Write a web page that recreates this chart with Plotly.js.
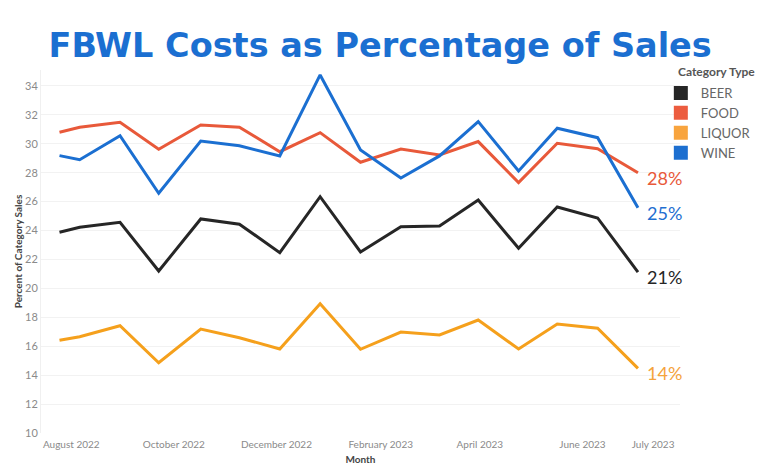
<!DOCTYPE html>
<html>
<head>
<meta charset="utf-8">
<script src="https://cdn.plot.ly/plotly-3.0.1.min.js"></script>
<style>html,body{margin:0;padding:0;background:#fff;}#chart{width:768px;height:476px;}</style>
</head>
<body>
<div id="chart"></div>
<script>
// Period dates (x axis)
var periods = ["2022-07-25","2022-08-06","2022-08-30","2022-09-22","2022-10-17","2022-11-09","2022-12-03","2022-12-27","2023-01-20","2023-02-13","2023-03-08","2023-03-31","2023-04-24","2023-05-17","2023-06-10","2023-07-04"];
var categories = ["BEER","FOOD","LIQUOR","WINE"];
var beer   = [23.88,24.23,24.57,21.20,24.80,24.44,22.47,26.34,22.52,24.27,24.32,26.11,22.77,25.63,24.87,21.13];
var food   = [30.80,31.14,31.49,29.62,31.30,31.15,29.45,30.77,28.72,29.64,29.23,30.15,27.31,30.03,29.66,28.00];
var liquor = [16.41,16.66,17.42,14.86,17.19,16.59,15.81,18.94,15.79,16.98,16.78,17.81,15.81,17.54,17.24,14.47];
var wine   = [29.18,28.90,30.56,26.58,30.19,29.86,29.16,34.76,29.57,27.63,29.16,31.53,28.12,31.07,30.42,25.58];
var lineColors = ["#262626","#e8593a","#f5a01c","#1b6fd1"];
var swatchColors = ["#262626","#ec5c3f","#f8a43e","#1d6fd0"];
var labelColors = ["#262626","#e8593a","#f5a33c","#1f6fd1"];
var tickVals = ["2022-08-01","2022-10-01","2022-12-01","2023-02-01","2023-04-01","2023-06-01","2023-07-13"];
var tickText = ["August 2022","October 2022","December 2022","February 2023","April 2023","June 2023","July 2023"];
var yTicks = [10,12,14,16,18,20,22,24,26,28,30,32,34];

var series = [beer, food, liquor, wine];
var traces = [];
series.forEach(function(s, i){
  traces.push({type:"scatter", mode:"lines", x:periods, y:s, name:categories[i],
    line:{color:lineColors[i], width:3}, showlegend:false, hoverinfo:"skip"});
});
categories.forEach(function(c, i){
  traces.push({type:"scatter", mode:"markers", x:[null], y:[null], name:c,
    marker:{symbol:"square", size:14, color:swatchColors[i], line:{width:0}}, showlegend:true});
});

// end-of-line value labels
var annotations = series.map(function(s, i){
  var last = s[s.length-1];
  return {x:periods[periods.length-1], y:last, xref:"x", yref:"y",
    text: Math.floor(last) + "%", showarrow:false, xanchor:"left", yanchor:"middle",
    xshift:7, yshift:-5, font:{family:"Lato, sans-serif", size:18, color:labelColors[i]}};
});
annotations.push({text:"Category Type", xref:"paper", yref:"paper", x:0.994, y:0.9945, xanchor:"left", yanchor:"middle",
    showarrow:false, font:{family:"Lato, sans-serif", size:12, weight:700, color:"#555"}});

var layout = {
  width:768, height:476,
  margin:{l:41, r:85, t:70, b:43},
  paper_bgcolor:"#fff", plot_bgcolor:"#fff",
  title:{text:"FBWL Costs as Percentage of Sales", x:0.495, xanchor:"center", y:0.905, yanchor:"middle",
    font:{family:"DejaVu Sans, sans-serif", size:33.5, weight:700, color:"#1b6fd1"}},
  xaxis:{type:"date", range:["2022-07-14","2023-07-29"], tickvals:tickVals, ticktext:tickText,
    tickfont:{family:"Lato, sans-serif", size:10, color:"#8a8a8a"}, showgrid:false, zeroline:false,
    showline:false, ticks:"", ticklabelstandoff:4,
    title:{text:"Month", standoff:6, font:{family:"Lato, sans-serif", size:10, weight:700, color:"#444"}}},
  yaxis:{range:[10,35.1], tickvals:yTicks, tickfont:{family:"Lato, sans-serif", size:11, color:"#8a8a8a"},
    gridcolor:"#f2f2f2", gridwidth:1, zeroline:false, showline:true, linecolor:"#f0f0f0", ticks:"",
    title:{text:"Percent of Category Sales", standoff:0, font:{family:"Lato, sans-serif", size:10, weight:700, color:"#444"}}},
  legend:{x:0.97, xanchor:"left", y:0.978, yanchor:"top", bgcolor:"rgba(0,0,0,0)",
    font:{family:"Lato, sans-serif", size:13, color:"#666"}, tracegroupgap:0, itemwidth:30},
  annotations:annotations,
  showlegend:true
};
Plotly.newPlot("chart", traces, layout, {displayModeBar:false, staticPlot:true});
</script>
</body>
</html>
